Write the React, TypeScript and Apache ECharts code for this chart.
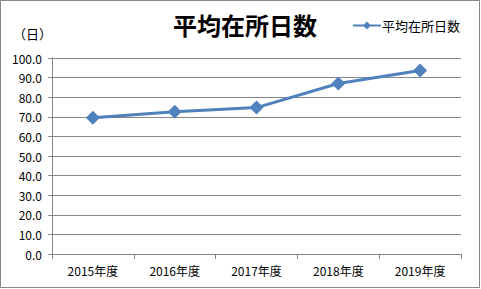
import React, { useEffect, useRef } from "react";
import * as echarts from "echarts";

const categories = ["2015年度", "2016年度", "2017年度", "2018年度", "2019年度"];
const seriesName = "平均在所日数";
const values = [69.5, 72.6, 74.7, 87.0, 93.6];
const chartTitle = "平均在所日数";
const unitLabel = "（日）";

const FONT = "'Noto Sans CJK JP', 'Liberation Sans', sans-serif";

export default function App() {
  const ref = useRef<HTMLDivElement>(null);
  useEffect(() => {
    if (!ref.current) return;
    const chart = echarts.init(ref.current, null, { renderer: "svg" });
    chart.setOption({
      animation: false,
      backgroundColor: "#ffffff",
      textStyle: { fontFamily: FONT },
      title: [
        {
          text: chartTitle,
          left: 240,
          top: 7,
          textAlign: "center",
          textStyle: { fontSize: 24, fontWeight: "bold", color: "#000", fontFamily: FONT },
        },
        {
          text: unitLabel,
          left: 8,
          top: 22,
          textStyle: { fontSize: 13, fontWeight: "normal", color: "#000", fontFamily: FONT },
        },
      ],
      legend: {
        data: [seriesName],
        left: 347,
        top: 14,
        itemWidth: 28,
        itemHeight: 10,
        itemGap: 2,
        textStyle: { fontSize: 13, color: "#000", fontFamily: FONT, padding: [0, 0, 0, -4] },
      },
      graphic: [
        {
          type: "rect",
          shape: { x: 0.5, y: 0.5, width: 479, height: 287 },
          style: { fill: "none", stroke: "#868686", lineWidth: 1 },
          silent: true,
        },
      ],
      grid: { left: 52, right: 20, top: 58, bottom: 35 },
      xAxis: {
        type: "category",
        data: categories,
        boundaryGap: true,
        axisLine: { lineStyle: { color: "#868686", width: 1 } },
        axisTick: { show: true, length: 5, lineStyle: { color: "#868686" } },
        axisLabel: { fontSize: 12, color: "#000", margin: 10, fontFamily: FONT },
      },
      yAxis: {
        type: "value",
        min: 0,
        max: 100,
        interval: 10,
        axisLine: { show: true, lineStyle: { color: "#868686", width: 1 } },
        axisTick: { show: true, length: 4, lineStyle: { color: "#868686" } },
        axisLabel: {
          fontSize: 12,
          color: "#000",
          margin: 10,
          fontFamily: FONT,
          formatter: (v: number) => v.toFixed(1),
        },
        splitLine: { show: true, lineStyle: { color: "#868686", width: 1 } },
      },
      series: [
        {
          name: seriesName,
          type: "line",
          data: values,
          symbol: "diamond",
          symbolSize: 14,
          lineStyle: { color: "#4F81BD", width: 3 },
          itemStyle: { color: "#4F81BD" },
        },
      ],
    });
    return () => chart.dispose();
  }, []);
  return (
    <div
      ref={ref}
      style={{ position: "fixed", left: 0, top: 0, width: 481, height: 289 }}
    />
  );
}
